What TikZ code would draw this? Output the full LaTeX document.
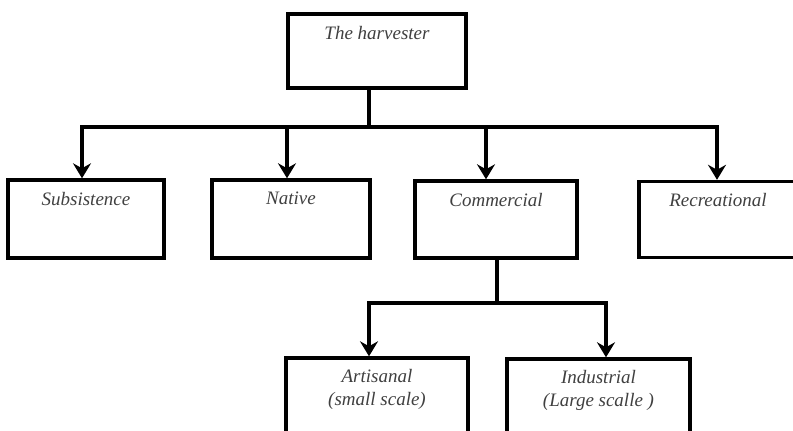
\documentclass[tikz,border=0pt]{standalone}
\usepackage{fontspec}
\setmainfont{Liberation Serif}
\usetikzlibrary{arrows.meta}
\begin{document}
\begin{tikzpicture}[x=1pt,y=-1pt,
  box/.style={draw=black, line width=3.4pt, rectangle, inner sep=0pt},
  lbl/.style={font=\fontsize{19}{23}\selectfont\itshape, text=black!75, align=center, anchor=north},
  conn/.style={line width=3.2pt, line cap=rect},
  arr/.style={conn, -{Stealth[length=15pt,width=18pt,inset=5pt]}}]
\clip (0,0) rectangle (793,431);
\fill[white] (0,0) rectangle (793,431);
% boxes
\node[box, minimum width=178pt, minimum height=74pt,
  label={[lbl, yshift=-10pt]north:The harvester}] (top) at (377,51) {};
\node[box, minimum width=156pt, minimum height=78pt,
  label={[lbl, yshift=-10pt]north:Subsistence}] (sub) at (86,219) {};
\node[box, minimum width=158pt, minimum height=78pt,
  label={[lbl, yshift=-10pt]north:Native}] (nat) at (291,219) {};
\node[box, minimum width=162pt, minimum height=77pt,
  label={[lbl, yshift=-10pt]north:Commercial}] (com) at (496,219.5) {};
\node[box, minimum width=158pt, minimum height=76pt,
  label={[lbl, yshift=-10pt]north:Recreational}] (rec) at (718,219.5) {};
\node[box, minimum width=182pt, minimum height=84pt,
  label={[lbl, yshift=-9pt]north:Artisanal\\(small scale)}] (art) at (377,400) {};
\node[box, minimum width=183pt, minimum height=84pt,
  label={[lbl, yshift=-9pt]north:Industrial\\(Large scalle )}] (ind) at (598.5,401) {};
% connectors
\coordinate (bus) at (369,127);
\coordinate (bus2) at (497,303);
\draw[conn] (top.south -| bus) -- (bus);
\draw[conn] (82,127) -- (717,127);
\draw[arr] (bus -| 82,0) -- (sub.north -| 82,0);
\draw[arr] (bus -| 287,0) -- (nat.north -| 287,0);
\draw[arr] (bus -| 486,0) -- (com.north -| 486,0);
\draw[arr] (bus -| 717,0) -- (rec.north -| 717,0);
\draw[conn] (com.south -| bus2) -- (bus2);
\draw[conn] (369,303) -- (606,303);
\draw[arr] (bus2 -| 369,0) -- (art.north -| 369,0);
\draw[arr] (bus2 -| 606,0) -- (ind.north -| 606,0);
\end{tikzpicture}
\end{document}
